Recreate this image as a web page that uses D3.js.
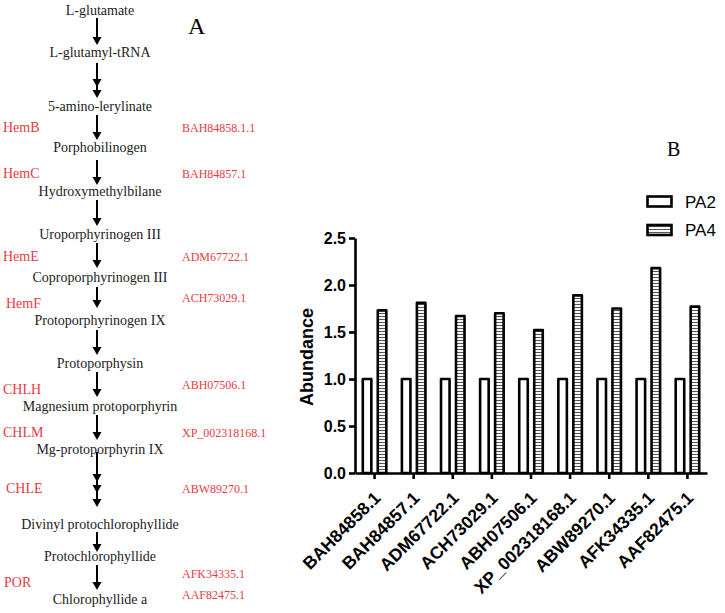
<!DOCTYPE html>
<html>
<head>
<meta charset="utf-8">
<script src="https://cdn.jsdelivr.net/npm/d3@7"></script>
<style>
  html, body { margin: 0; padding: 0; background: #fff; }
  svg { display: block; }
</style>
</head>
<body>
<svg id="chart" width="725" height="613"></svg>
<script>
// ---------------- Data ----------------
const categories = ["BAH84858.1","BAH84857.1","ADM67722.1","ACH73029.1","ABH07506.1","XP_002318168.1","ABW89270.1","AFK34335.1","AAF82475.1"];
const series = ["PA2","PA4"];
const pa2Values = [1.0,1.0,1.0,1.0,1.0,1.0,1.0,1.0,1.0];
const pa4Values = [1.73,1.81,1.67,1.70,1.52,1.89,1.75,2.18,1.77];
const yTicks = [0,0.5,1.0,1.5,2.0,2.5];
const yLabel = "Abundance";

// Pathway (panel A)
const compounds = ["L-glutamate","L-glutamyl-tRNA","5-amino-lerylinate","Porphobilinogen","Hydroxymethylbilane","Uroporphyrinogen III","Coproporphyrinogen III","Protoporphyrinogen IX","Protoporphysin","Magnesium protoporphyrin","Mg-protoporphyrin IX","Divinyl protochlorophyllide","Protochlorophyllide","Chlorophyllide a"];
const enzymes = ["HemB","HemC","HemE","HemF","CHLH","CHLM","CHLE","POR"];
const accessions = ["BAH84858.1.1","BAH84857.1","ADM67722.1","ACH73029.1","ABH07506.1","XP_002318168.1","ABW89270.1","AFK34335.1","AAF82475.1"];

// Layout of the pathway diagram (positions only)
const compoundY = [15,57,111,152,196,239,282,325,368,411,454,529,561,604];
const enzymeY = [132,178,261,308,394,437,493,587];
const enzymeX = [3,3,3,6,3,3,6,4];
const accessionY = [132,178,261,302,389,437,493,578,599];
const arrowLayout = [
  [18,45,[45]],[63,98,[87,98]],[115,140,[140]],[160,185,[185]],[200,226,[226]],
  [243,268,[268]],[287,308,[308]],[330,355,[355]],[372,397,[397]],[415,440,[440]],
  [452,507,[482,493,507]],[532,552,[552]],[565,590,[590]]
];

// ---------------- Drawing ----------------
const svg = d3.select("#chart");
const red = "#e63b43";
const serif = "'Liberation Serif','Times New Roman',serif";
const sans = "'Liberation Sans',Arial,sans-serif";

// Panel A
const pathX = 97;
const gA = svg.append("g");
gA.selectAll("text.compound").data(compounds).join("text")
  .attr("class","compound")
  .attr("x", pathX + 3).attr("y", (d,i) => compoundY[i])
  .attr("text-anchor","middle")
  .style("font-family", serif).style("font-size","14px").style("fill","#222")
  .text(d => d);

gA.selectAll("text.enzyme").data(enzymes).join("text")
  .attr("class","enzyme")
  .attr("x",(d,i)=>enzymeX[i]).attr("y",(d,i)=>enzymeY[i])
  .style("font-family", serif).style("font-size","14px").style("fill",red)
  .text(d=>d);

gA.selectAll("text.acc").data(accessions).join("text")
  .attr("class","acc")
  .attr("x",182).attr("y",(d,i)=>accessionY[i])
  .style("font-family", serif).style("font-size","12px").style("fill",red)
  .text(d=>d);

const arrows = gA.selectAll("g.arrow").data(arrowLayout).join("g").attr("class","arrow");
arrows.append("line")
  .attr("x1",pathX).attr("x2",pathX)
  .attr("y1",d=>d[0]).attr("y2",d=>d[1]-4)
  .attr("stroke","#000").attr("stroke-width",2);
arrows.selectAll("path").data(d=>d[2]).join("path")
  .attr("d", t => `M${pathX-4.5},${t-8}L${pathX+4.5},${t-8}L${pathX},${t}Z`)
  .attr("fill","#000");

svg.append("text").attr("x",188).attr("y",34)
  .style("font-family",serif).style("font-size","24px").style("fill","#000").text("A");
svg.append("text").attr("x",667).attr("y",156)
  .style("font-family",serif).style("font-size","20px").style("fill","#000").text("B");

// Panel B: bar chart
const defs = svg.append("defs");
const pat = defs.append("pattern").attr("id","hatch")
  .attr("patternUnits","userSpaceOnUse").attr("width",6).attr("height",3);
pat.append("rect").attr("width",6).attr("height",3).attr("fill","#fff");
pat.append("line").attr("x1",0).attr("x2",6).attr("y1",1.5).attr("y2",1.5)
  .attr("stroke","#555").attr("stroke-width",1.1);

const x0 = d3.scaleBand().domain(categories).range([355,707]);
const x1 = d3.scaleBand().domain(series).range([0,x0.bandwidth()]).paddingInner(0.43).paddingOuter(0.52);
const y = d3.scaleLinear().domain([0,2.5]).range([473,238]);

const rows = categories.map((c,i)=>({cat:c, vals:[{s:"PA2",v:pa2Values[i]},{s:"PA4",v:pa4Values[i]}]}));
const groups = svg.append("g").selectAll("g").data(rows).join("g")
  .attr("transform", d=>`translate(${x0(d.cat)},0)`);
groups.selectAll("rect").data(d=>d.vals).join("rect")
  .attr("x", d=>x1(d.s)).attr("width", x1.bandwidth())
  .attr("y", d=>y(d.v)).attr("height", d=>y(0)-y(d.v))
  .attr("fill", d=> d.s==="PA2" ? "#fff" : "url(#hatch)")
  .attr("stroke","#000").attr("stroke-width",2.6).attr("stroke-linejoin","round");

const yAxis = svg.append("g").attr("transform","translate(355,0)")
  .call(d3.axisLeft(y).tickValues(yTicks).tickFormat(d3.format(".1f")).tickSize(6).tickSizeOuter(0));
const xAxis = svg.append("g").attr("transform","translate(0,473)")
  .call(d3.axisBottom(x0).tickSize(6).tickSizeOuter(0));
[yAxis,xAxis].forEach(g=>{
  g.selectAll("path,line").attr("stroke","#000").attr("stroke-width",2.6);
  g.selectAll("text").style("font-family",sans).style("font-weight","bold").style("font-size","16px").style("fill","#000");
});
yAxis.selectAll("text").attr("x",-9).attr("dy","0.36em");
xAxis.selectAll("text")
  .style("font-size","17.5px")
  .attr("text-anchor","end")
  .attr("x",0).attr("y",0).attr("dy",0)
  .attr("transform","translate(7,26) rotate(-45)");

svg.append("text")
  .attr("transform","translate(313,357) rotate(-90)")
  .attr("text-anchor","middle")
  .style("font-family",sans).style("font-weight","bold").style("font-size","18px")
  .text(yLabel);

// Legend
const legendY = [196.5, 225];
const lg = svg.append("g").selectAll("g").data(series).join("g");
lg.append("rect").attr("x",647.5).attr("y",(d,i)=>legendY[i]).attr("width",24).attr("height",10)
  .attr("fill",(d,i)=> i===0 ? "#fff" : "url(#hatch)")
  .attr("stroke","#000").attr("stroke-width",2.6);
lg.append("text").attr("x",685).attr("y",(d,i)=>legendY[i]+11)
  .style("font-family",sans).style("font-size","17px").text(d=>d);
</script>
</body>
</html>
